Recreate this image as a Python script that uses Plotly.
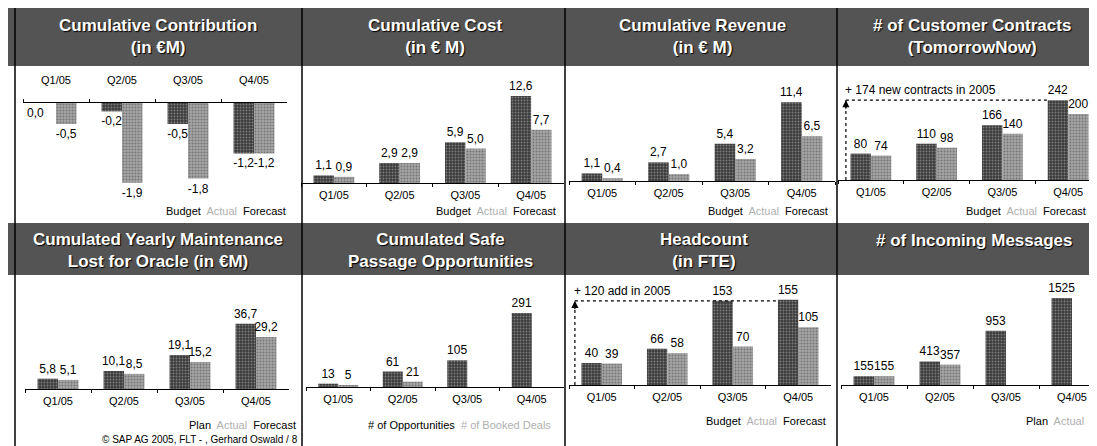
import plotly.graph_objects as go

# ---------------- data ----------------
quarters = ["Q1/05", "Q2/05", "Q3/05", "Q4/05"]

contrib_budget = [0.0, -0.2, -0.5, -1.2]
contrib_actual = [-0.5, -1.9, -1.8, -1.2]
cost_budget = [1.1, 2.9, 5.9, 12.6]
cost_actual = [0.9, 2.9, 5.0, 7.7]
revenue_budget = [1.1, 2.7, 5.4, 11.4]
revenue_actual = [0.4, 1.0, 3.2, 6.5]
contracts_budget = [80, 110, 166, 242]
contracts_actual = [74, 98, 140, 200]
maint_plan = [5.8, 10.1, 19.1, 36.7]
maint_actual = [5.1, 8.5, 15.2, 29.2]
opportunities = [13, 61, 105, 291]
booked_deals = [5, 21, None, None]
headcount_budget = [40, 66, 153, 155]
headcount_actual = [39, 58, 70, 105]
messages_plan = [155, 413, 953, 1525]
messages_actual = [155, 357, None, None]

titles = [
    "Cumulative Contribution<br>(in €M)",
    "Cumulative Cost<br>(in € M)",
    "Cumulative Revenue<br>(in € M)",
    "# of Customer Contracts<br>(TomorrowNow)",
    "Cumulated Yearly Maintenance<br>Lost for Oracle (in €M)",
    "Cumulated Safe<br>Passage Opportunities",
    "Headcount<br>(in FTE)",
    "# of Incoming Messages",
]
legend_texts = [
    ["Budget", "Actual", "Forecast"],
    ["Budget", "Actual", "Forecast"],
    ["Budget", "Actual", "Forecast"],
    ["Budget", "Actual", "Forecast"],
    ["Plan", "Actual", "Forecast"],
    ["# of Opportunities", "# of Booked Deals"],
    ["Budget", "Actual", "Forecast"],
    ["Plan", "Actual"],
]
series = [
    (contrib_budget, contrib_actual, True),
    (cost_budget, cost_actual, True),
    (revenue_budget, revenue_actual, True),
    (contracts_budget, contracts_actual, False),
    (maint_plan, maint_actual, True),
    (opportunities, booked_deals, False),
    (headcount_budget, headcount_actual, False),
    (messages_plan, messages_actual, False),
]
note_contracts = "+ 174 new contracts in 2005"
note_headcount = "+ 120 add in 2005"
copyright_text = "© SAP AG 2005, FLT - , Gerhard Oswald / 8"

# ---------------- layout geometry (pixels) ----------------
W, H = 1097, 446
FONT = "Arial, Liberation Sans, sans-serif"

def fx(px):
    return px / W

def fy(py):
    return 1 - py / H

# x-domain px, zero-line px, px per unit, top px, bottom px
geom = [
    ((15, 279), 95, 42.0, 95, 195),
    ((293, 556), 175, 6.9, 70, 175),
    ((561, 827), 173, 6.9, 70, 173),
    ((830, 1093), 172, 0.33, 70, 172),
    ((17, 281), 381, 1.78, 280, 381),
    ((298, 556), 379, 0.254, 280, 379),
    ((561, 823), 377, 0.55, 280, 377),
    ((833, 1097), 377, 0.057, 280, 377),
]
title_pos = [(150, 29), (427, 29), (694, 29), (964, 29),
             (150, 242), (432, 242), (696, 242), (966, 233)]
legend_pos = [(280, 203), (550, 203), (822, 203), (1080, 203),
              (290, 417), (545, 417), (820, 413), (1078, 413)]

DARK = "rgb(58,58,58)"
LIGHT = "rgb(165,165,165)"

fig = go.Figure()

def fmt(v, dec):
    if v is None:
        return ""
    return (f"{v:.1f}".replace(".", ",")) if dec else str(v)

annotations = []
for i, (a, b, dec) in enumerate(series):
    n = "" if i == 0 else str(i + 1)
    for vals, col, fg in ((a, DARK, "rgb(190,190,190)"), (b, LIGHT, "rgb(70,70,70)")):
        fig.add_trace(go.Bar(
            x=quarters, y=vals,
            text=[fmt(v, dec) for v in vals],
            textposition=["none" if v == 0 else "outside" for v in
                          [0 if v is None else v for v in vals]],
            cliponaxis=False, constraintext="none",
            textfont=dict(family=FONT, size=12, color="black"),
            marker=dict(color=col, line=dict(width=0),
                        pattern=dict(shape=".", fgcolor=fg, bgcolor=col,
                                     size=3, solidity=0.35)),
            xaxis="x" + n, yaxis="y" + n, showlegend=False,
            hoverinfo="skip",
        ))
        # a zero-height bar gets its label beside the baseline
        for q, v in zip(quarters, vals):
            if v == 0:
                annotations.append(dict(xref="x" + n, yref="y" + n, x=q, y=v,
                                        text=fmt(v, dec), showarrow=False,
                                        xanchor="right", yanchor="top",
                                        xshift=-10, yshift=-1,
                                        font=dict(family=FONT, size=12, color="black")))
    (x0, x1), zero, k, top, bot = geom[i]
    yr = [(zero - bot) / k, (zero - top) / k]
    neg = i == 0
    fig.update_layout({
        "xaxis" + n: dict(domain=[fx(x0), fx(x1)], anchor="y" + n,
                          type="category", range=[-0.5, 3.5],
                          side="top" if neg else "bottom",
                          showline=True, linecolor="black", linewidth=1,
                          ticks="outside", ticklen=3, tickcolor="black",
                          tickson="boundaries", showgrid=False,
                          ticklabelstandoff=14 if neg else 2,
                          tickfont=dict(family=FONT, size=11, color="black"),
                          fixedrange=True),
        "yaxis" + n: dict(domain=[fy(bot), fy(top)], anchor="x" + n,
                          range=yr, visible=False, fixedrange=True),
    })

# title bands
shapes = []
for (y0, y1) in ((0, 58), (215, 267)):
    shapes.append(dict(type="rect", xref="paper", yref="paper",
                       x0=0, x1=1, y0=fy(y1), y1=fy(y0),
                       fillcolor="rgb(84,84,84)", line=dict(width=0), layer="below"))
# dividers
for px in (7, 294, 557, 829):
    shapes.append(dict(type="line", xref="paper", yref="paper",
                       x0=fx(px), x1=fx(px), y0=0, y1=1,
                       line=dict(color="black", width=1.5)))

for (cx, cy), t in zip(title_pos, titles):
    annotations.append(dict(xref="paper", yref="paper", x=fx(cx), y=fy(cy),
                            text="<b>" + t + "</b>", showarrow=False,
                            xanchor="center", yanchor="middle",
                            font=dict(family=FONT, size=17, color="white",
                                      shadow="1px 1px 1px black"),
                            align="center"))
for (rx, ry), words in zip(legend_pos, legend_texts):
    parts = []
    for j, w in enumerate(words):
        c = "#b0b0b0" if j == 1 else "black"
        parts.append(f"<span style='color:{c}'>{w}</span>")
    annotations.append(dict(xref="paper", yref="paper", x=fx(rx), y=fy(ry),
                            text="  ".join(parts), showarrow=False,
                            xanchor="right", yanchor="middle",
                            font=dict(family=FONT, size=11, color="black")))
annotations.append(dict(xref="paper", yref="paper", x=fx(292), y=fy(431),
                        text=copyright_text, showarrow=False,
                        xanchor="right", yanchor="middle",
                        font=dict(family=FONT, size=10, color="black")))

# target notes (contracts, headcount)
for n, note, vals, xa in (("4", note_contracts, contracts_budget, -0.38),
                           ("7", note_headcount, headcount_budget, -0.41)):
    top_val = vals[2] if n == "7" else vals[3]
    shapes.append(dict(type="line", xref="x" + n, yref="y" + n,
                       x0=xa, x1=2.69, y0=top_val, y1=top_val,
                       line=dict(color="black", width=1.2, dash="dot")))
    shapes.append(dict(type="line", xref="x" + n, yref="y" + n,
                       x0=xa, x1=xa, y0=0, y1=top_val,
                       line=dict(color="black", width=1.2, dash="dot")))
    annotations.append(dict(xref="x" + n, yref="y" + n, x=xa, y=top_val,
                            ax=0, ay=10, showarrow=True, arrowhead=2,
                            arrowsize=1.2, arrowwidth=1.2, arrowcolor="black",
                            text=""))
    annotations.append(dict(xref="x" + n, yref="y" + n, x=xa - 0.05, y=top_val,
                            text=note, showarrow=False, xanchor="left",
                            yanchor="bottom", yshift=1,
                            font=dict(family=FONT, size=12, color="black")))

fig.update_layout(
    width=W, height=H, margin=dict(l=0, r=0, t=0, b=0),
    paper_bgcolor="white", plot_bgcolor="white",
    barmode="group", bargap=0.38, bargroupgap=0.0,
    shapes=shapes, annotations=annotations,
    font=dict(family=FONT, size=11, color="black"),
    showlegend=False,
)

fig.write_html("out.html", config={"displayModeBar": False})
